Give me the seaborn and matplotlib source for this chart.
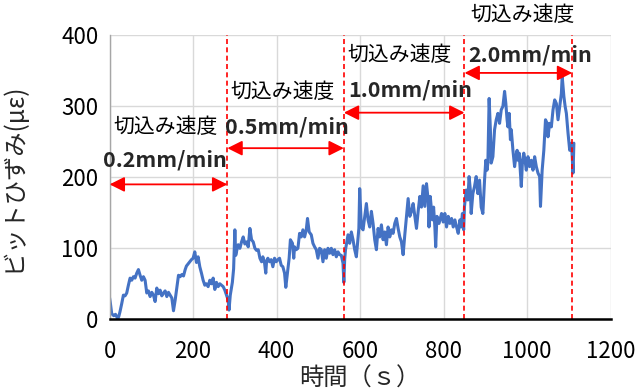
import numpy as np
import pandas as pd
import matplotlib.pyplot as plt
import seaborn as sns

# bit strain (με), time in seconds
time_s = [0, 2, 5, 10, 14, 17, 19, 22, 25, 29, 33, 37, 41, 45, 49, 53, 57, 61, 65, 69,
          73, 77, 81, 85, 89, 93, 97, 101, 105, 109, 113, 117, 121, 125, 129, 133, 137, 141, 145, 149,
          153, 157, 161, 165, 169, 173, 177, 181, 184, 188, 192, 196, 200, 204, 208, 212, 216, 220, 224, 228,
          232, 236, 240, 244, 248, 252, 256, 260, 264, 268, 272, 276, 280, 284, 286, 289, 294, 297, 300, 302,
          305, 308, 312, 316, 320, 324, 328, 332, 336, 340, 344, 348, 352, 356, 360, 364, 367, 371, 374, 376,
          379, 383, 387, 391, 395, 399, 403, 407, 411, 415, 419, 422, 425, 430, 433, 438, 441, 443, 447, 451,
          455, 459, 463, 467, 471, 474, 478, 483, 487, 491, 495, 499, 503, 507, 511, 515, 519, 523, 527, 531,
          535, 539, 543, 547, 551, 555, 559, 561, 563, 565, 569, 571, 575, 579, 583, 587, 591, 595, 597, 599,
          603, 607, 611, 615, 619, 623, 627, 631, 635, 639, 643, 647, 651, 655, 659, 663, 667, 671, 675, 679,
          683, 687, 691, 695, 699, 703, 707, 711, 715, 719, 723, 727, 731, 735, 739, 743, 747, 751, 755, 759,
          763, 765, 768, 773, 776, 779, 781, 784, 789, 795, 799, 803, 807, 811, 815, 819, 823, 827, 831, 835,
          839, 842, 845, 848, 850, 854, 858, 861, 864, 866, 870, 874, 878, 882, 886, 890, 894, 898, 901, 904,
          906, 909, 912, 914, 918, 922, 926, 930, 934, 938, 942, 946, 949, 952, 954, 957, 960, 962, 966, 970,
          973, 976, 978, 981, 984, 986, 989, 992, 995, 998, 1002, 1006, 1010, 1014, 1018, 1022, 1026, 1030, 1032, 1036,
          1040, 1044, 1048, 1050, 1054, 1058, 1062, 1066, 1070, 1074, 1078, 1082, 1084, 1088, 1091, 1094, 1098, 1102, 1106, 1108,
          1110, 1112]
strain = [30, 22, 8, 5, 7, 4, 0, 4, 11, 22, 34, 33, 37, 48, 58, 55, 60, 58, 65, 70,
          62, 55, 60, 55, 37, 40, 32, 38, 34, 25, 44, 36, 41, 33, 37, 40, 32, 38, 34, 30,
          12, 27, 44, 62, 60, 63, 61, 70, 75, 78, 81, 84, 86, 95, 80, 88, 74, 65, 55, 48,
          50, 46, 55, 50, 58, 42, 52, 46, 50, 48, 46, 41, 34, 27, 13, 34, 52, 71, 126, 90,
          98, 105, 100, 109, 116, 106, 109, 102, 128, 112, 109, 100, 97, 98, 86, 81, 88, 80, 65, 82,
          86, 81, 84, 74, 86, 81, 84, 86, 76, 74, 65, 45, 60, 86, 112, 107, 86, 102, 98, 100,
          121, 116, 126, 116, 126, 142, 123, 119, 107, 102, 98, 86, 100, 98, 81, 98, 86, 100, 93, 100,
          91, 98, 88, 95, 91, 90, 79, 52, 84, 98, 112, 119, 107, 123, 112, 98, 88, 114, 128, 184,
          130, 126, 145, 163, 140, 130, 152, 135, 112, 98, 128, 116, 133, 112, 123, 105, 130, 116, 126, 121,
          135, 142, 128, 116, 109, 91, 119, 145, 170, 145, 152, 163, 145, 128, 152, 173, 158, 188, 159, 191,
          168, 130, 173, 140, 158, 130, 102, 145, 135, 149, 137, 149, 130, 145, 135, 142, 130, 140, 130, 121,
          140, 130, 149, 126, 159, 182, 168, 201, 182, 149, 177, 187, 201, 177, 196, 158, 149, 196, 224, 210,
          220, 311, 267, 220, 229, 267, 281, 290, 276, 295, 300, 321, 304, 281, 271, 290, 253, 267, 238, 215,
          229, 238, 224, 234, 206, 187, 224, 234, 224, 210, 229, 215, 224, 210, 229, 215, 206, 201, 159, 210,
          238, 281, 276, 257, 276, 271, 295, 309, 304, 281, 300, 318, 342, 314, 300, 290, 262, 238, 248, 229,
          206, 248]

# cutting-speed stages
stage_edges = [0, 282, 561, 850, 1108]
stage_speeds = ['0.2mm/min', '0.5mm/min', '1.0mm/min', '2.0mm/min']

df = pd.DataFrame({'time': time_s, 'strain': strain})

sns.set_theme(style='white')
plt.rcParams['font.family'] = ['Noto Sans CJK JP', 'DejaVu Sans']

fig = plt.figure(figsize=(6.38, 3.92), dpi=100)
ax = fig.add_axes([0.1718, 0.1855, 0.7853, 0.7245])

sns.lineplot(data=df, x='time', y='strain', ax=ax, color='#4472C4', lw=2.2, estimator=None)

ax.set_xlim(0, 1200)
ax.set_ylim(0, 400)
ax.set_xticks(range(0, 1201, 200))
ax.set_yticks(range(0, 401, 100))
ax.grid(True, color='#d9d9d9', lw=1)
ax.set_axisbelow(True)
for s in ['top', 'right']:
    ax.spines[s].set_visible(False)
ax.spines['left'].set_color('#a6a6a6')
ax.spines['left'].set_linewidth(1)
ax.spines['bottom'].set_color('black')
ax.spines['bottom'].set_linewidth(1.8)
ax.tick_params(axis='both', length=0, labelsize=16, colors='black')
ax.tick_params(axis='x', pad=15)
ax.tick_params(axis='y', pad=8)

ax.set_xlabel('時間（ｓ）', fontsize=17.5, color='#262626', labelpad=2)
ax.set_ylabel('ビットひずみ(με)', fontsize=17.5, color='#262626')
ax.yaxis.set_label_coords(-0.165, 0.5)

# stage boundaries
for b in stage_edges[1:]:
    ax.axvline(b, color='red', ls=(0, (3, 2)), lw=1.2)

# arrows and labels
arrow_y = [190, 241, 291, 347]
title_pos = [(133, 271), (415, 320), (695, 372), (988, 428)]
speed_pos = [(133, 224), (425, 271), (720, 323), (1007, 372)]
for i, sp in enumerate(stage_speeds):
    ax.annotate('', xy=(stage_edges[i + 1], arrow_y[i]), xytext=(stage_edges[i], arrow_y[i]),
                arrowprops=dict(arrowstyle='<|-|>,head_length=0.6,head_width=0.3',
                                color='red', lw=1.3, mutation_scale=15, shrinkA=0, shrinkB=0))
    ax.text(*title_pos[i], '切込み速度', fontsize=15, ha='center', va='center', color='black')
    ax.text(*speed_pos[i], sp, fontsize=15.5, fontweight='bold', ha='center', va='center', color='#262626')

fig.savefig('out.png', dpi=100)
